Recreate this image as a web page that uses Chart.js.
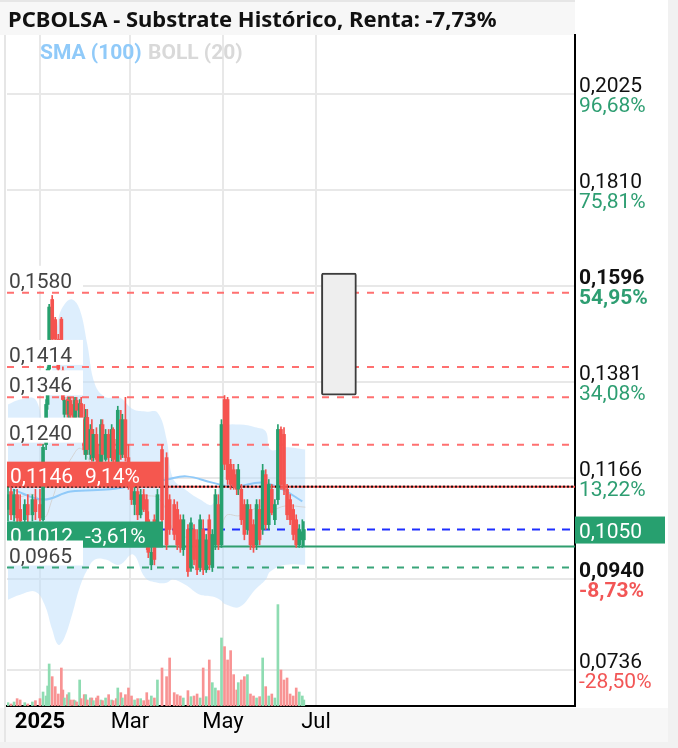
<!DOCTYPE html>
<html>
<head>
<meta charset="utf-8">
<script src="https://cdn.jsdelivr.net/npm/chart.js@4/dist/chart.umd.min.js"></script>
<style>
    html, body { margin: 0; padding: 0; background: #fff; }
    #chart { display: block; }
</style>
</head>
<body>
<canvas id="chart" width="678" height="748"></canvas>
<script>
const $ = document.querySelector.bind(document)
const ctx = $("#chart")

// trading days, counted from 1 Jan 2025
const days = [-21,-19,-17,-15,-13,-10,-8,-5,-3,0, 2,4,5,6, 8,10,12,14,15,16,18,19,20,22,23,24,26,27,
    29,30,31,33,34,35,37,38,40,41,43,45,47,48,50,51,53,54,56, 58,60,62,64,66,68,70,71,73,75,77,
    80,83,85,88,90,92,94,97,99,101,103,105,107,109,111,113,115,117,
    119,121,123,125,127,129,130,132,134,136,138,140,142,144,146,148,150,152,154,156,158,160,162,164,166,168,170,172,173]

const opens = [.1095,.1135,.1083,.1128,.1095,.1072,.1106,.1083,.1117,.1106, .1072,.1240,.1330,.1409,
    .1565,.1520,.1476,.1521,.1405,.1308,.1341,.1308,.1339,.1330,.1301,.1339,.1301,.1332,
    .1296,.1218,.1301,.1218,.1274,.1211,.1263,.1218,.1196,.1285,.1207,.1263,.1211,.1274,.1229,.1196,.1296,.1218,.1296,
    .1211,.1151,.1106,.1135,.1083,.1128,.1117,.1072,.0971,.1072,.1027,
    .1229,.1211,.1117,.1106,.1095,.1072,.1005,.1050,.0965,.1050,.1027,.0965,.1050,.0960,.1072,.0965,.1016,.1106,
    .1016,.1341,.1341,.1196,.1184,.1173,.1140,.1140,.1106,.1050,.1095,.1061,.1016,.1095,.1050,.1173,.1061,.1140,.1072,.1117,.1274,.1263,.1140,.1117,.1095,.1072,.1016,.1027,.1027]
const highs = [.1144,.1144,.1140,.1140,.1128,.1117,.1128,.1128,.1140,.1140, .1240,.1341,.1414,.1554,
    .1574,.1525,.1487,.1525,.1414,.1346,.1346,.1346,.1346,.1346,.1346,.1346,.1341,.1346,
    .1330,.1319,.1319,.1285,.1296,.1274,.1278,.1240,.1296,.1296,.1274,.1274,.1285,.1278,.1252,.1326,.1317,.1308,.1346,
    .1240,.1162,.1144,.1144,.1140,.1140,.1128,.1090,.1010,.1083,.1140,
    .1240,.1222,.1128,.1117,.1112,.1083,.1083,.1061,.1076,.1061,.1050,.1083,.1072,.1039,.1083,.1050,.1140,.1128,
    .1296,.1350,.1346,.1207,.1196,.1184,.1196,.1151,.1117,.1117,.1106,.1072,.1117,.1117,.1196,.1184,.1162,.1151,.1117,.1285,.1280,.1278,.1151,.1128,.1106,.1083,.1061,.1072,.1068]
const lows = [.1069,.1072,.1069,.1061,.1050,.1054,.1061,.1069,.1072,.1069, .1069,.1229,.1319,.1405,
    .1465,.1470,.1405,.1470,.1339,.1301,.1301,.1296,.1296,.1292,.1296,.1301,.1296,.1285,
    .1218,.1207,.1218,.1207,.1203,.1203,.1196,.1184,.1189,.1203,.1203,.1196,.1203,.1196,.1184,.1189,.1207,.1211,.1203,
    .1140,.1106,.1083,.1072,.1076,.1090,.1005,.0987,.0960,.0971,.1016,
    .1061,.1005,.1039,.1027,.1005,.0999,.0992,.0945,.0956,.0971,.0949,.0956,.0949,.0954,.0960,.0956,.1005,.1005,
    .1010,.1184,.1151,.1140,.1140,.1128,.1128,.1061,.1027,.1039,.1005,.0999,.1005,.1016,.1039,.1050,.1050,.1083,.1061,.1106,.1140,.1128,.1072,.1061,.1027,.1010,.1010,.1010,.1012]
const closes = [.1128,.1083,.1128,.1076,.1069,.1106,.1083,.1117,.1090,.1076, .1234,.1330,.1409,.1548,
    .1476,.1476,.1409,.1474,.1341,.1339,.1308,.1337,.1306,.1301,.1339,.1317,.1332,.1296,
    .1229,.1301,.1229,.1274,.1218,.1263,.1207,.1196,.1285,.1218,.1263,.1211,.1274,.1207,.1196,.1317,.1218,.1296,.1211,
    .1151,.1117,.1135,.1083,.1128,.1095,.1016,.0999,.0999,.0983,.1128,
    .1072,.1016,.1050,.1039,.1016,.1010,.1072,.0956,.1065,.0983,.0960,.1072,.0960,.1027,.0971,.1039,.1128,.1016,
    .1285,.1196,.1162,.1151,.1146,.1140,.1184,.1072,.1039,.1106,.1016,.1010,.1106,.1027,.1182,.1061,.1151,.1088,.1106,.1274,.1151,.1140,.1083,.1072,.1039,.1016,.1050,.1045,.1050]
// volume, thousands of shares
const volumes = [5,3,6,11,9,5,3,6,8,11, 21,15,30,63, 44,29,18,57,24,12,17,20,9,9,8,6,39,11,
    17,17,9,12,12,8,12,15,9,8,12,17,9,8,11,27,20,12,17, 27,15,9,11,11,8,20,9,15,12,39,
    57,44,72,20,17,15,12,23,14,15,18,12,57,14,69,35,27,23,
    102,89,69,83,47,24,35,39,44,47,18,15,12,14,72,29,15,18,12,152,54,39,42,18,15,27,21,15,9]

// Bollinger (20)
const bandDays = [-21,-13,-3,3,8,12,16,21,26,31,36,43,52,61,69,77,83,87,95,105,113,118,122,131,141,148,151,161,174]
const bandUpper = [.1330,.1341,.1341,.1274,.1409,.1521,.1554,.1565,.1543,.1465,.1375,.1346,.1346,.1319,.1314,.1312,.1252,.1166,.1140,.1117,.1106,.1162,.1279,.1285,.1279,.1270,.1229,.1234,.1229]
const bandMiddle = [.1112,.1123,.1126,.1078,.1118,.1157,.1181,.1212,.1232,.1213,.1179,.1165,.1159,.1157,.1128,.1122,.1092,.1052,.1034,.1011,.1003,.1028,.1081,.1081,.1097,.1104,.1093,.1103,.1100]
const bandLower = [.0893,.0904,.0911,.0882,.0826,.0792,.0808,.0859,.0920,.0960,.0983,.0983,.0971,.0994,.0942,.0931,.0931,.0938,.0927,.0904,.0900,.0893,.0882,.0877,.0915,.0938,.0956,.0971,.0971]

// SMA (100)
const smaDays = [-18,2,20,46,66,83,96,113,127,146,159,172]
const smaValues = [.1140,.1117,.1135,.1140,.1151,.1162,.1169,.1155,.1146,.1155,.1140,.1113]

const resistLevels = [0.1580, 0.1414, 0.1346, 0.1240]
const supportLevel = 0.0965
const entryLevel = 0.1146
const entryPct = "9,14%"
const stopLevel = 0.1012
const stopPct = "-3,61%"
const lastPrice = 0.1050

const rangeDay = 196
const rangeLow = 0.1351
const rangeHigh = 0.1624

const yTicks = [0.2025, 0.1810, 0.1596, 0.1381, 0.1166, 0.0940, 0.0736]
const yTickPct = ["96,68%", "75,81%", "54,95%", "34,08%", "13,22%", "-8,73%", "-28,50%"]
const boldTicks = [0.1596, 0.0940]

const monthDays = [0, 59, 120, 181]
const monthLabels = ["2025", "Mar", "May", "Jul"]

const title = "PCBOLSA - Substrate Histórico, Renta: -7,73%"

const X_MIN = -21.64
const X_MAX = 350.8

const GREEN = "#26a06e"
const RED = "#f5534f"
const isUp = i => closes[i] >= opens[i]
const fmt = v => v.toFixed(4).replace(".", ",")

function levelLine(value, color, dash, width, order) {
    return {
        type: "line",
        data: [{x: X_MIN, y: value}, {x: X_MAX, y: value}],
        borderColor: color,
        borderWidth: width,
        borderDash: dash,
        pointRadius: 0,
        fill: false,
        order: order,
    }
}

const overlay = {
    id: "overlay",
    beforeDraw(chart) {
        const c = chart.ctx
        c.save()
        c.fillStyle = "#f7f7f7"
        c.fillRect(0, 0, 575, 35)
        c.fillRect(0, 708, 678, 34)
        c.fillStyle = "#f1f1f1"
        c.fillRect(668, 0, 10, 748)
        c.fillRect(0, 742, 678, 6)
        c.fillStyle = "#e6e6e6"
        c.fillRect(0, 0, 575, 2)
        c.fillRect(4, 35, 2, 707)
        c.restore()
    },
    afterDraw(chart) {
        const c = chart.ctx
        const y = chart.scales.y
        const left = chart.chartArea.left
        const right = chart.chartArea.right
        c.save()
        c.textBaseline = "alphabetic"
        c.textAlign = "left"

        // entry label (red)
        let ly = y.getPixelForValue(entryLevel)
        c.fillStyle = "#f5574f"
        c.fillRect(left, ly - 25, 156, 25)
        c.font = "21px Roboto"
        c.fillStyle = "#fff"
        c.fillText(fmt(entryLevel), 10, ly - 4)
        c.fillText(entryPct, 85, ly - 4)

        // stop label (green)
        ly = y.getPixelForValue(stopLevel)
        c.fillStyle = "#27a06f"
        c.fillRect(left, ly - 25, 156, 26)
        c.fillStyle = "#fff"
        c.fillText(fmt(stopLevel), 10, ly - 4)
        c.fillText(stopPct, 85, ly - 4)

        // plain level labels
        for (const v of resistLevels.concat([supportLevel])) {
            const py = y.getPixelForValue(v)
            c.fillStyle = "#fff"
            c.fillRect(left, py - 27, 76, 25)
            c.fillStyle = "#444"
            c.fillText(fmt(v), 9, py - 5)
        }

        // right axis labels
        yTicks.forEach((v, i) => {
            const py = y.getPixelForValue(v)
            const bold = boldTicks.includes(v) ? "bold " : ""
            c.font = bold + "21px Roboto"
            c.fillStyle = "#111"
            c.fillText(fmt(v), right + 4, py - 2)
            c.fillStyle = yTickPct[i].startsWith("-") ? "#f25656" : "#2e9e72"
            c.fillText(yTickPct[i], right + 4, py + 18)
        })

        // last price tag
        ly = y.getPixelForValue(lastPrice)
        c.fillStyle = "#27a06f"
        c.fillRect(right, ly - 13, 90, 27)
        c.font = "21px Roboto"
        c.fillStyle = "#fff"
        c.fillText(fmt(lastPrice), right + 4, ly + 8)

        // title + legend
        c.font = "bold 22px 'Noto Sans'"
        c.fillStyle = "#111"
        c.fillText(title, 8, 27)
        c.font = "bold 21px Roboto"
        c.fillStyle = "#90caf9"
        c.fillText("SMA (100)", 40, 59)
        c.fillStyle = "#d9d9d9"
        c.fillText("BOLL (20)", 148, 59)
        c.restore()
    }
}

new Chart(ctx, {
    type: "bar",
    data: {
        datasets: [
            {
                type: "bar",
                data: days.map((d, i) => ({x: d, y: [opens[i], closes[i]]})),
                backgroundColor: (c) => isUp(c.dataIndex) ? GREEN : RED,
                barThickness: 3,
                grouped: false,
                order: 1,
            },
            {
                type: "bar",
                data: days.map((d, i) => ({x: d, y: [lows[i], highs[i]]})),
                backgroundColor: (c) => isUp(c.dataIndex) ? GREEN : RED,
                barThickness: 1,
                grouped: false,
                order: 2,
            },
            {
                type: "bar",
                data: [{x: rangeDay, y: [rangeLow, rangeHigh]}],
                backgroundColor: "#eeeeee",
                borderColor: "#3c3c3c",
                borderWidth: 2,
                borderSkipped: false,
                borderRadius: 2,
                barThickness: 35,
                grouped: false,
                order: 3,
            },
            levelLine(entryLevel, "#111", [2, 2], 2, 4),
            levelLine(entryLevel, "#f5534f", [], 2, 5),
            levelLine(lastPrice, "#1f2fff", [8, 7], 2, 5),
            levelLine(stopLevel, "#2f9e6e", [], 2, 5),
            levelLine(supportLevel, "#3aa57a", [7, 8], 2, 5),
            ...resistLevels.map(v => levelLine(v, "#ff7070", [7, 8], 2, 5)),
            {
                type: "line",
                data: smaDays.map((d, i) => ({x: d, y: smaValues[i]})),
                borderColor: "#90caf9",
                borderWidth: 2,
                pointRadius: 0,
                tension: 0.4,
                fill: false,
                order: 6,
            },
            {
                type: "bar",
                yAxisID: "yv",
                data: days.map((d, i) => ({x: d, y: volumes[i]})),
                backgroundColor: (c) => isUp(c.dataIndex) ? "#8edcb2" : "#f89393",
                barThickness: 2,
                grouped: false,
                order: 7,
            },
            {
                type: "line",
                data: bandDays.map((d, i) => ({x: d, y: bandMiddle[i]})),
                borderColor: "#d4d4d4",
                borderWidth: 1,
                pointRadius: 0,
                tension: 0.4,
                fill: false,
                order: 8,
            },
            {
                type: "line",
                data: bandDays.map((d, i) => ({x: d, y: bandUpper[i]})),
                borderWidth: 0,
                pointRadius: 0,
                tension: 0.4,
                fill: "+1",
                backgroundColor: "rgba(187, 222, 251, 0.5)",
                order: 9,
            },
            {
                type: "line",
                data: bandDays.map((d, i) => ({x: d, y: bandLower[i]})),
                borderWidth: 0,
                pointRadius: 0,
                tension: 0.4,
                fill: false,
                order: 9,
            },
        ]
    },
    options: {
        responsive: false,
        animation: false,
        events: [],
        layout: {
            padding: {left: 7, top: 35, right: 0, bottom: 0}
        },
        scales: {
            x: {
                type: "linear",
                min: X_MIN,
                max: X_MAX,
                offset: false,
                afterBuildTicks: (axis) => {
                    axis.ticks = monthDays.map(v => ({value: v}))
                },
                afterFit: (axis) => {
                    axis.height = 42
                },
                grid: {
                    color: "#e8e8e8",
                    lineWidth: 2,
                    drawTicks: false,
                    offset: false,
                },
                border: {color: "#000", width: 2},
                ticks: {
                    autoSkip: false,
                    maxRotation: 0,
                    padding: 3,
                    color: "#000",
                    font: (c) => ({
                        family: "Roboto",
                        size: 22,
                        weight: c.tick && c.tick.value === 0 ? "bold" : "normal",
                    }),
                    callback: (value) => monthLabels[monthDays.indexOf(value)],
                }
            },
            y: {
                type: "linear",
                position: "right",
                min: 0.0655,
                max: 0.2157,
                afterBuildTicks: (axis) => {
                    axis.ticks = yTicks.map(v => ({value: v}))
                },
                afterFit: (axis) => {
                    axis.width = 103
                },
                grid: {
                    color: "#e8e8e8",
                    lineWidth: 2,
                    drawTicks: false,
                },
                border: {color: "#000", width: 2},
                ticks: {display: false}
            },
            yv: {
                type: "linear",
                display: false,
                min: 0,
                max: 1006,
            }
        },
        plugins: {
            legend: {display: false},
            tooltip: {enabled: false},
        }
    },
    plugins: [overlay]
});
</script>
</body>
</html>
